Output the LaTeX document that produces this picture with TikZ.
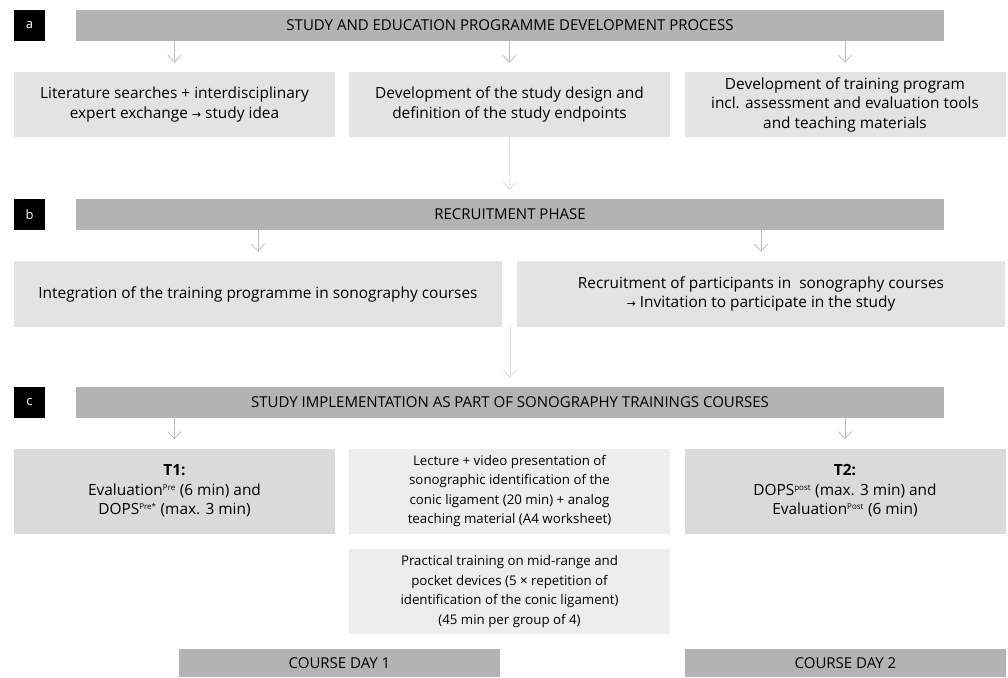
\documentclass[tikz,border=0pt]{standalone}
\usepackage{fontspec}
\setmainfont{Open Sans}
\newfontfamily\symfont{DejaVu Sans}
\usetikzlibrary{arrows.meta}
\definecolor{headgray}{HTML}{B3B3B3}
\definecolor{boxgray}{HTML}{E3E3E3}
\definecolor{tgray}{HTML}{DADADA}
\definecolor{lightbox}{HTML}{EDEDED}
\definecolor{arrowgray}{HTML}{BDBDBD}
\definecolor{longgray}{HTML}{DDDDDD}
\tikzset{
  tag/.style={fill=black,text=white,minimum width=31pt,minimum height=31pt,inner sep=0pt,font=\fontsize{13}{15}\selectfont},
  phase/.style={fill=headgray,minimum width=868pt,minimum height=31pt,inner sep=0pt,font=\fontsize{15}{17}\selectfont},
  box/.style={fill=boxgray,minimum width=321pt,minimum height=65pt,align=center,inner sep=0pt,font=\fontsize{15.4}{19.5}\selectfont},
  smallbox/.style={box,fill=lightbox,minimum height=85pt,font=\fontsize{13.3}{19.5}\selectfont},
  arr/.style={draw=arrowgray,line width=0.8pt,-{Straight Barb[length=7pt,width=13pt]},shorten >=9pt},
  longarr/.style={arr,draw=longgray}
}
\newcommand{\sups}[1]{\textsuperscript{\fontsize{8}{9}\selectfont #1}}
\newcommand{\rarr}{{\symfont\fontsize{11}{12}\selectfont →}}
\begin{document}
\begin{tikzpicture}[x=1pt,y=-1pt]
\useasboundingbox (0,0) rectangle (1008,677);
% a: development process
\node[tag] (la) at (29.5,25.5) {a};
\node[phase] (ha) at (510,25.5) {STUDY AND EDUCATION PROGRAMME DEVELOPMENT PROCESS};
\node[box] (a1) at (174.5,104.5) {Literature searches + interdisciplinary\\expert exchange \rarr{} study idea};
\node[box] (a2) at (509.5,104.5) {Development of the study design and\\definition of the study endpoints};
\node[box] (a3) at (845,104.5) {Development of training program\\incl. assessment and evaluation tools\\and teaching materials};
% b: recruitment
\node[tag] (lb) at (29.5,214.5) {b};
\node[phase] (hb) at (510,214.5) {RECRUITMENT PHASE};
\node[box,minimum width=488pt,minimum height=66pt] (b1) at (258,294) {Integration of the training programme in sonography courses};
\node[box,minimum width=488pt,minimum height=66pt] (b2) at (761,294) {Recruitment of participants in\ \ sonography courses\\\rarr{} Invitation to participate in the study};
\coordinate (bgap) at (510,327);
% c: implementation
\node[tag] (lc) at (29.5,402.5) {c};
\node[phase] (hc) at (510,402.5) {STUDY IMPLEMENTATION AS PART OF SONOGRAPHY TRAININGS COURSES};
\node[box,fill=tgray,minimum height=85pt] (c1) at (174.5,491) {\textbf{T1:}\\Evaluation\sups{Pre} (6 min) and\\DOPS\sups{Pre*} (max. 3 min)};
\node[smallbox] (c2) at (509.5,491) {Lecture + video presentation of\\sonographic identification of the\\conic ligament (20 min) + analog\\teaching material (A4 worksheet)};
\node[box,fill=tgray,minimum height=85pt] (c3) at (845,491) {\textbf{T2:}\\DOPS\sups{post} (max. 3 min) and\\Evaluation\sups{Post} (6 min)};
\node[smallbox] (c4) at (509.5,591.5) {Practical training on mid-range and\\pocket devices (5 × repetition of\\identification of the conic ligament)\\(45 min per group of 4)};
\node[phase,minimum width=321pt,minimum height=28pt] (d1) at (339.5,663) {COURSE DAY 1};
\node[phase,minimum width=321pt,minimum height=28pt] (d2) at (845.5,663) {COURSE DAY 2};
% arrows
\foreach \i/\j in {ha/a1,ha/a2,ha/a3,hb/b1,hb/b2,hc/c1,hc/c3} {
  \draw[arr] (\i.south -| \j) -- (\j.north);
}
\draw[longarr] (a2.south) -- (hb.north);
\draw[longarr] (bgap) -- (bgap |- hc.north);
\end{tikzpicture}
\end{document}
